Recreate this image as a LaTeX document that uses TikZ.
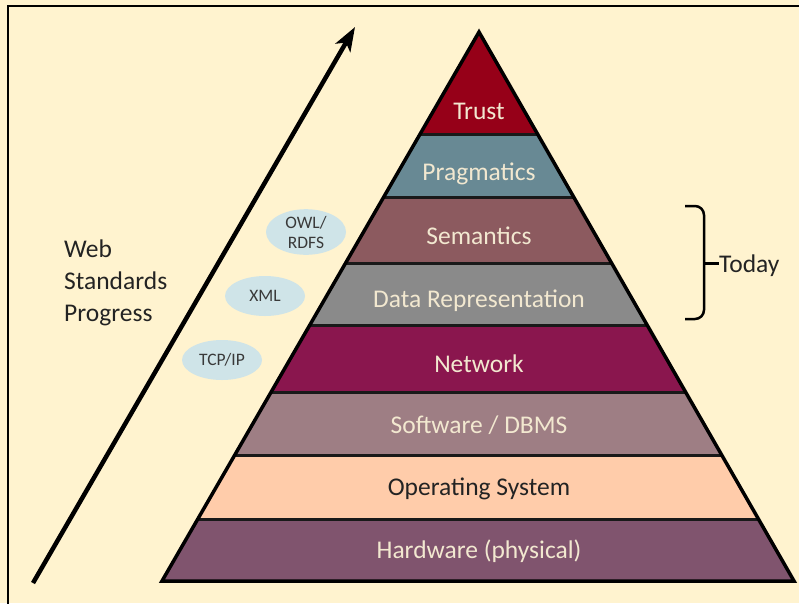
\documentclass[tikz,border=0pt]{standalone}
\usepackage{fontspec}
\setmainfont{Carlito}
\usetikzlibrary{shapes.geometric,arrows.meta}

\definecolor{paper}{RGB}{255,243,207}
\definecolor{trustc}{RGB}{150,0,24}
\definecolor{pragc}{RGB}{104,137,148}
\definecolor{semc}{RGB}{140,90,95}
\definecolor{datac}{RGB}{138,138,138}
\definecolor{netc}{RGB}{138,22,78}
\definecolor{softc}{RGB}{158,126,132}
\definecolor{osc}{RGB}{255,204,170}
\definecolor{hardc}{RGB}{128,84,110}
\definecolor{bubble}{RGB}{207,228,232}
\definecolor{light}{RGB}{242,232,208}
\definecolor{ink}{RGB}{35,35,35}

\begin{document}
\begin{tikzpicture}[
        x=1pt, y=-1pt, % pixel grid of the page
        layer/.style = {anchor=base, inner sep=0pt, text=light, font=\fontsize{25.5}{28}\selectfont}, % pyramid labels
        tag/.style = {ellipse, fill=bubble, minimum width=80pt, minimum height=40pt, inner sep=0pt,
                align=center, text=ink!90, font=\fontsize{17.5}{20}\selectfont}, % blue bubbles
        note/.style = {inner sep=0pt, text=ink, font=\fontsize{25.5}{32}\selectfont}, % side texts
        progress/.style = {line width=4.5pt, -{Stealth[length=24pt, width=17pt, inset=6pt]}},
    ]

    % background and frame
    \useasboundingbox (0,0) rectangle (799,603);
    \fill[paper] (0,0) rectangle (799,603);
    \draw[line width=2pt] (8,620) |- (820,6);

    % layers of the pyramid
    \begin{scope}
        \clip (479,32) -- (794,581) -- (162,581) -- cycle;
        \foreach \ytop/\ybot/\col in {20/134/trustc, 134/197/pragc, 197/263/semc, 263/325/datac,
                325/392/netc, 392/455/softc, 455/519/osc, 519/590/hardc}
            \fill[\col] (140,\ytop) rectangle (820,\ybot);
        \foreach \y in {134,197,263,325,392,455,519}
            \draw[line width=3pt, black!90] (140,\y) -- (820,\y);
    \end{scope}
    \draw[line width=3.5pt] (479,32) -- (794,581) -- (162,581) -- cycle;

    \node[layer] (trust) at (479,119) {Trust};
    \node[layer] (pragmatics) at (479,180) {Pragmatics};
    \node[layer] (semantics) at (479,244) {Semantics};
    \node[layer] (datarep) at (479,307) {Data Representation};
    \node[layer] (network) at (479,372) {Network};
    \node[layer] (software) at (479,433) {Software / DBMS};
    \node[layer, text=ink] (opsys) at (479,495) {Operating System};
    \node[layer] (hardware) at (479,558) {Hardware (physical)};

    % standards
    \node[tag] (owl) at (306,232) {OWL/\\RDFS};
    \node[tag] (xml) at (265,296) {XML};
    \node[tag] (tcp) at (222,360) {TCP/IP};

    % progress arrow
    \node[note, anchor=north west, align=left] (web) at (64,240) {Web\\Standards\\Progress};
    \coordinate (start) at (33,583);
    \coordinate (top) at (355,27);
    \draw[progress] (start) -- (top);

    % today brace
    \node[note, anchor=base west, inner sep=0pt] (today) at (719,272) {Today};
    \coordinate (bmid) at (704,263);
    \draw[line width=2.5pt, rounded corners=9pt] (685,206) -- (704,206) -- (704,319) -- (685,319);
    \draw[line width=3pt] (bmid) -- (bmid -| today.west);
\end{tikzpicture}
\end{document}
